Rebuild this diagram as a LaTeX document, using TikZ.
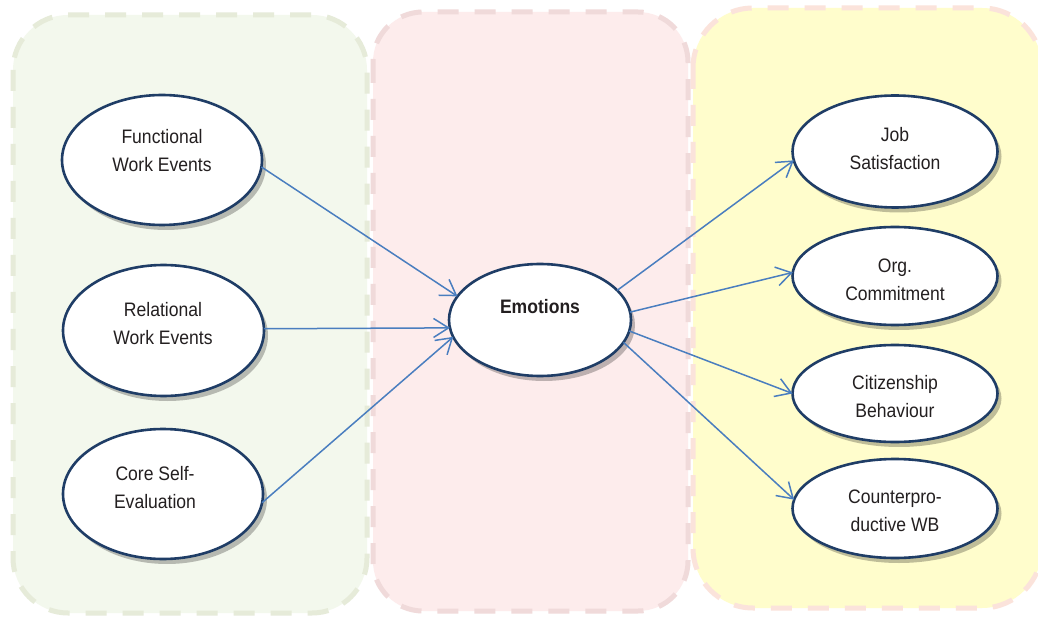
\documentclass[tikz,border=0pt]{standalone}
\usepackage{fontspec}
\setmainfont{Liberation Sans}[FakeStretch=0.9]
\usetikzlibrary{shapes.geometric,arrows.meta,shadows}

\definecolor{greenfill}{HTML}{F3F8ED}
\definecolor{greenline}{HTML}{E6EBD9}
\definecolor{pinkfill}{HTML}{FDECEC}
\definecolor{pinkline}{HTML}{F0DADA}
\definecolor{yellowfill}{HTML}{FFFDCC}
\definecolor{yellowline}{HTML}{FBE3DB}
\definecolor{ellnavy}{HTML}{1F3D66}
\definecolor{arrowblue}{HTML}{4A7EBF}
\definecolor{txtdark}{HTML}{231F20}

\begin{document}
\begin{tikzpicture}[x=1pt,y=-1pt,
  panel/.style={line width=5pt, dash pattern=on 21pt off 16pt},
  ell/.style={ellipse, draw=ellnavy, line width=2.6pt, fill=white,
    inner sep=0pt, outer sep=0pt,
    drop shadow={shadow xshift=4pt, shadow yshift=-5pt, fill=black, opacity=0.25}},
  lab/.style={align=center, text=txtdark, inner sep=0pt,
    font=\fontsize{19.5}{28}\selectfont},
  link/.style={draw=arrowblue, line width=1.5pt,
    -{Straight Barb[length=15pt,width=19pt]}}]

% canvas
\fill[white] (0,0) rectangle (1038,617);
\useasboundingbox (0,0) rectangle (1038,617);

% three background groups
\draw[panel, rounded corners=55pt, draw=greenline, fill=greenfill] (13,15) rectangle (367,613);
\draw[panel, rounded corners=50pt, draw=pinkline, fill=pinkfill] (373,12) rectangle (688,611);
\draw[panel, rounded corners=60pt, draw=yellowline, fill=yellowfill] (693,8) rectangle (1042,608);

% antecedents
\node[ell, minimum width=200pt, minimum height=130pt] (fun) at (162,160) {};
\node[ell, minimum width=201pt, minimum height=131pt] (rel) at (163.5,330.5) {};
\node[ell, minimum width=200pt, minimum height=130pt] (cse) at (163,494) {};

% mediator
\node[ell, minimum width=182pt, minimum height=112pt] (emo) at (540,320) {};

% outcomes
\node[ell, minimum width=205pt, minimum height=112pt] (job) at (895,151.5) {};
\node[ell, minimum width=205pt, minimum height=98pt] (org) at (895,276) {};
\node[ell, minimum width=205pt, minimum height=97pt] (cit) at (895,393.5) {};
\node[ell, minimum width=205pt, minimum height=99pt] (cwb) at (895,508.5) {};

% labels
\node[lab] (funT) at (162,151) {Functional\\Work Events};
\node[lab] (relT) at (163,324) {Relational\\Work Events};
\node[lab] (cseT) at (155,488) {Core Self-\\Evaluation};
\node[lab, font=\fontsize{19.5}{28}\selectfont\bfseries] (emoT) at (540,307) {Emotions};
\node[lab] (jobT) at (895,149) {Job\\Satisfaction};
\node[lab] (orgT) at (895,280) {Org.\\Commitment};
\node[lab] (citT) at (895,397) {Citizenship\\Behaviour};
\node[lab] (cwbT) at (895,511) {Counterpro-\\ductive WB};

% causal paths
\draw[link] (fun.-4) -- (emo.164.5);
\draw[link] (rel.1.5) -- (emo.185);
\draw[link] (cse.-5) -- (emo.191.7);
\draw[link] (emo.21) -- (job.185.9);
\draw[link] (emo.5.7) -- (org.178.3);
\draw[link] (emo.-7.6) -- (cit.180.9);
\draw[link] (emo.-15.5) -- (cwb.175.1);
\end{tikzpicture}
\end{document}
